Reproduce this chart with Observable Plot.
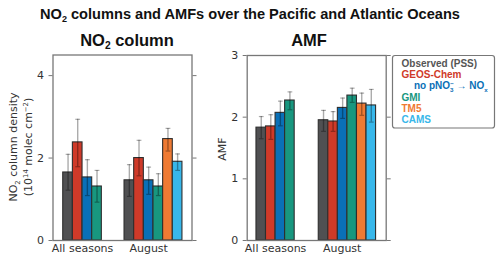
<!DOCTYPE html>
<html>
<head>
<meta charset="utf-8">
<script src="https://cdn.jsdelivr.net/npm/d3@7"></script>
<script src="https://cdn.jsdelivr.net/npm/@observablehq/plot@0.6"></script>
<style>
  html, body { margin: 0; padding: 0; background: #fff; }
  #wrap { position: relative; width: 500px; height: 261px; overflow: hidden; }
  #wrap > * { position: absolute; }
</style>
</head>
<body>
<div id="wrap"></div>
<script>
// ---------- data ----------
const groups = ["All seasons", "August"];
const models = ["Observed (PSS)", "GEOS-Chem", "no pNO3 to NOx", "GMI", "TM5", "CAMS"];
const colors = ["#505052", "#cf3a29", "#0a70b7", "#18977f", "#ef7a33", "#38b7ea"];
const textColors = ["#555555", "#cf3a29", "#0a70b7", "#18977f", "#ef7a33", "#38b7ea"];

// models present in each group (indices into models)
const groupModels = [[0, 1, 2, 3], [0, 1, 2, 3, 4, 5]];

// NO2 column (1e14 molec cm-2)
const no2Value = [[1.65, 2.38, 1.53, 1.31], [1.46, 2.00, 1.46, 1.31, 2.46, 1.91]];
const no2Low   = [[1.22, 1.79, 1.09, 0.93], [1.07, 1.57, 1.12, 1.09, 2.17, 1.70]];
const no2High  = [[2.09, 2.94, 1.96, 1.70], [1.84, 2.43, 1.78, 1.62, 2.72, 2.10]];

// AMF
const amfValue = [[1.83, 1.85, 2.07, 2.27], [1.95, 1.93, 2.15, 2.35, 2.22, 2.19]];
const amfLow   = [[1.65, 1.64, 1.86, 2.12], [1.77, 1.77, 1.98, 2.24, 2.03, 1.92]];
const amfHigh  = [[2.01, 2.04, 2.26, 2.41], [2.11, 2.09, 2.31, 2.47, 2.39, 2.45]];

const no2Ticks = [0, 2, 4];
const amfTicks = [0, 1, 2, 3];

// ---------- helpers ----------
function buildRows(values, lows, highs, offsets) {
  const rows = [];
  groups.forEach((g, gi) => {
    groupModels[gi].forEach((m, k) => {
      const s = offsets[gi] + k;
      rows.push({group: g, model: models[m], color: colors[m],
        x1: s, x2: s + 1, xc: s + 0.5, capL: s + 0.25, capR: s + 0.75,
        value: values[gi][k], lo: lows[gi][k], hi: highs[gi][k]});
    });
  });
  return rows;
}

function panel({rows, xDomain, yDomain, yTicks, labelPos, width, mL, mR, mT, mB}) {
  return Plot.plot({
    width, height: 261,
    marginLeft: mL, marginRight: mR, marginTop: mT, marginBottom: mB,
    x: {domain: xDomain},
    y: {domain: yDomain},
    style: {fontFamily: "DejaVu Sans", fontSize: "11px", color: "#333", background: "transparent", overflow: "visible"},
    marks: [
      Plot.rectY(rows, {x1: "x1", x2: "x2", y: "value", fill: "color", stroke: "#2e2e2e", strokeWidth: 1.1}),
      Plot.ruleX(rows, {x: "xc", y1: "lo", y2: "hi", stroke: "#000", strokeOpacity: 0.33, strokeWidth: 1.4}),
      Plot.link(rows, {x1: "capL", x2: "capR", y1: "hi", y2: "hi", stroke: "#000", strokeOpacity: 0.33, strokeWidth: 1.2}),
      Plot.link(rows, {x1: "capL", x2: "capR", y1: "lo", y2: "lo", stroke: "#000", strokeOpacity: 0.33, strokeWidth: 1.2}),
      Plot.frame({stroke: "#777", strokeWidth: 1.3}),
      Plot.axisY({ticks: yTicks, tickSize: 4, tickPadding: 5, tickFormat: d => String(d), label: null, stroke: "#777"}),
      Plot.axisY({anchor: "right", ticks: yTicks, tickSize: 4, tickFormat: () => "", label: null, stroke: "#777"}),
      Plot.axisX({ticks: labelPos, tickFormat: d => groups[labelPos.indexOf(d)], tickSize: 0, tickPadding: 4, label: null})
    ]
  });
}

const wrap = document.getElementById("wrap");

// left panel: NO2 column
const leftOffsets = [0, 6.35];
const left = panel({
  rows: buildRows(no2Value, no2Low, no2High, leftOffsets),
  xDomain: [-1.06, 13.34], yDomain: [0, 4.5], yTicks: no2Ticks,
  labelPos: [2, leftOffsets[1] + 2.5],
  width: 200, mL: 52.5, mR: 8.5, mT: 54.5, mB: 21
});
left.style.left = "0px"; left.style.top = "0px";
wrap.appendChild(left);

// right panel: AMF
const rightOffsets = [0, 6.52];
const right = panel({
  rows: buildRows(amfValue, amfLow, amfHigh, rightOffsets),
  xDomain: [-0.97, 13.58], yDomain: [0, 3], yTicks: amfTicks,
  labelPos: [2, rightOffsets[1] + 2.45],
  width: 200, mL: 46.7, mR: 14.3, mT: 55, mB: 21
});
right.style.left = "200px"; right.style.top = "0px";
wrap.appendChild(right);

// ---------- overlay text ----------
const svg = d3.create("svg").attr("width", 500).attr("height", 261)
  .style("left", "0px").style("top", "0px").style("pointer-events", "none");

const bold = "'Liberation Sans', Arial, sans-serif";

// parts: {t, size (em scale), dy (px), dx (px)}
function richText(sel, parts, fontSize) {
  parts.forEach(p => {
    const t = sel.append("tspan").text(p.t);
    if (p.small) t.attr("font-size", fontSize * 0.62);
    if (p.dy) t.attr("dy", p.dy);
    if (p.dx) t.attr("dx", p.dx);
  });
}

// main title
const tFs = 14.6;
richText(svg.append("text").attr("x", 250).attr("y", 18.5).attr("text-anchor", "middle")
  .attr("font-family", bold).attr("font-weight", "bold").attr("font-size", tFs).attr("fill", "#111"),
  [{t: "NO"}, {t: "2", small: true, dy: 3}, {t: " columns and AMFs over the Pacific and Atlantic Oceans", dy: -3}], tFs);

// panel titles
const sFs = 16.5;
richText(svg.append("text").attr("x", 127).attr("y", 45.7).attr("text-anchor", "middle")
  .attr("font-family", bold).attr("font-weight", "bold").attr("font-size", sFs).attr("fill", "#111"),
  [{t: "NO"}, {t: "2", small: true, dy: 3.5}, {t: " column", dy: -3.5}], sFs);
svg.append("text").attr("x", 309).attr("y", 45.7).attr("text-anchor", "middle")
  .attr("font-family", bold).attr("font-weight", "bold").attr("font-size", sFs).attr("fill", "#111").text("AMF");

// y labels
const yFs = 11;
const yl = svg.append("g").attr("font-family", "DejaVu Sans").attr("font-size", yFs).attr("fill", "#333");
richText(yl.append("text").attr("transform", "translate(17,147) rotate(-90)").attr("text-anchor", "middle"),
  [{t: "NO"}, {t: "2", small: true, dy: 2.5}, {t: " column density", dy: -2.5}], yFs);
richText(yl.append("text").attr("transform", "translate(31.5,147) rotate(-90)").attr("text-anchor", "middle"),
  [{t: "(10"}, {t: "14", small: true, dy: -4}, {t: " molec cm", dy: 4}, {t: "−2", small: true, dy: -4}, {t: ")", dy: 4}], yFs);
yl.append("text").attr("transform", "translate(226,149) rotate(-90)").attr("text-anchor", "middle").text("AMF");

// legend
const lg = svg.append("g");
lg.append("rect").attr("x", 392.5).attr("y", 55.5).attr("width", 102).attr("height", 72.5)
  .attr("rx", 2.5).attr("fill", "#fff").attr("stroke", "#777").attr("stroke-width", 1.2);
const lFs = 10;
const lgText = lg.append("g").attr("font-family", bold).attr("font-weight", "bold").attr("font-size", lFs);
const lineY = [67, 78.2, 89.4, 100.6, 111.8, 123];
models.forEach((m, i) => {
  const t = lgText.append("text").attr("x", i === 2 ? 414 : 401.5).attr("y", lineY[i]).attr("fill", textColors[i]);
  if (i === 2) {
    richText(t, [{t: "no pNO"}, {t: "3", small: true, dy: 2.5}, {t: "−", small: true, dy: -6, dx: -3.4},
      {t: " → NO", dy: 3.5}, {t: "x", small: true, dy: 2.5}], lFs);
  } else {
    t.text(m);
  }
});

wrap.appendChild(svg.node());
</script>
</body>
</html>
